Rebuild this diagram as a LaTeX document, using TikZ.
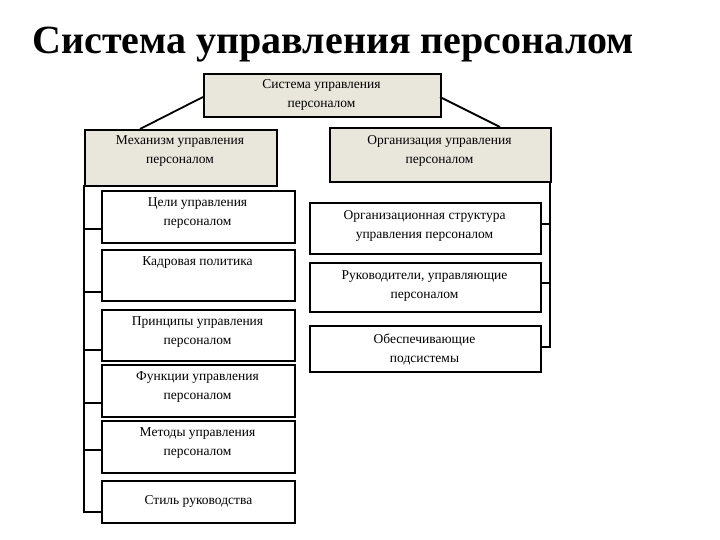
\documentclass[tikz,border=0pt]{standalone}
\usepackage{fontspec}
\setmainfont{Liberation Serif}
\definecolor{beige}{HTML}{E9E7DC}
\begin{document}
\begin{tikzpicture}[x=1pt,y=-1pt,
  bx/.style={draw,line width=1.8pt,inner sep=0pt},
  tx/.style={align=center,font=\fontsize{13.5}{19}\selectfont,anchor=north},
  ln/.style={line width=1.8pt}]
\useasboundingbox (0,0) rectangle (720,540);
\node[font=\bfseries\fontsize{40}{43}\selectfont,anchor=west] (title) at (29,45) {Система управления персоналом};
\node[bx,fill=beige,minimum width=237,minimum height=43,anchor=north west] (top) at (203,73) {};
\node[tx] (topt) at (321.5,76) {Система управления\\персоналом};
\node[bx,fill=beige,minimum width=192,minimum height=56,anchor=north west] (mech) at (84,129) {};
\node[tx] (mecht) at (180,132) {Механизм управления\\персоналом};
\node[bx,fill=beige,minimum width=221,minimum height=54,anchor=north west] (org) at (329,127) {};
\node[tx] (orgt) at (439.5,132) {Организация управления\\персоналом};
\foreach \n/\a/\b/\t in {l1/190/242/{Цели управления\\персоналом},l2/249/300/{Кадровая политика},l3/309/360/{Принципы управления\\персоналом},l4/364/416/{Функции управления\\персоналом},l5/420/472/{Методы управления\\персоналом}}{
  \node[bx,minimum width=193,minimum height=\b-\a,anchor=north west] (\n) at (101,\a) {};
  \node[tx] (\n t) at (197.5,\a+4) {\t};
}
\node[bx,minimum width=193,minimum height=42,anchor=north west] (l6) at (101,480) {};
\node[tx,anchor=center] (l6t) at (l6.center) {Стиль руководства};
\foreach \n/\a/\b/\t in {r1/202/253/{Организационная структура\\управления персоналом},r2/262/311/{Руководители, управляющие\\персоналом},r3/325/371/{Обеспечивающие\\подсистемы}}{
  \node[bx,minimum width=231,minimum height=\b-\a,anchor=north west] (\n) at (309,\a) {};
  \node[tx] (\n t) at (424.5,\a+5) {\t};
}
\coordinate (tl) at (140,129); \coordinate (tr) at (500,127);
\draw[ln] (203,97) -- (tl);
\draw[ln] (440,97) -- (tr);
\coordinate (lb) at (84,185); \coordinate (le) at (84,512);
\draw[ln] (lb) -- (le);
\foreach \n/\y in {l1/229,l2/292,l3/350,l4/403,l5/450,l6/512}{
  \draw[ln] (83.1,\y) -- (\n.west |- 0,\y);
}
\coordinate (rb) at (550,181); \coordinate (re) at (550,347);
\draw[ln] (rb) -- (re);
\foreach \n/\y in {r1/224,r2/283,r3/347}{
  \draw[ln] (550.9,\y) -- (\n.east |- 0,\y);
}
\end{tikzpicture}
\end{document}
